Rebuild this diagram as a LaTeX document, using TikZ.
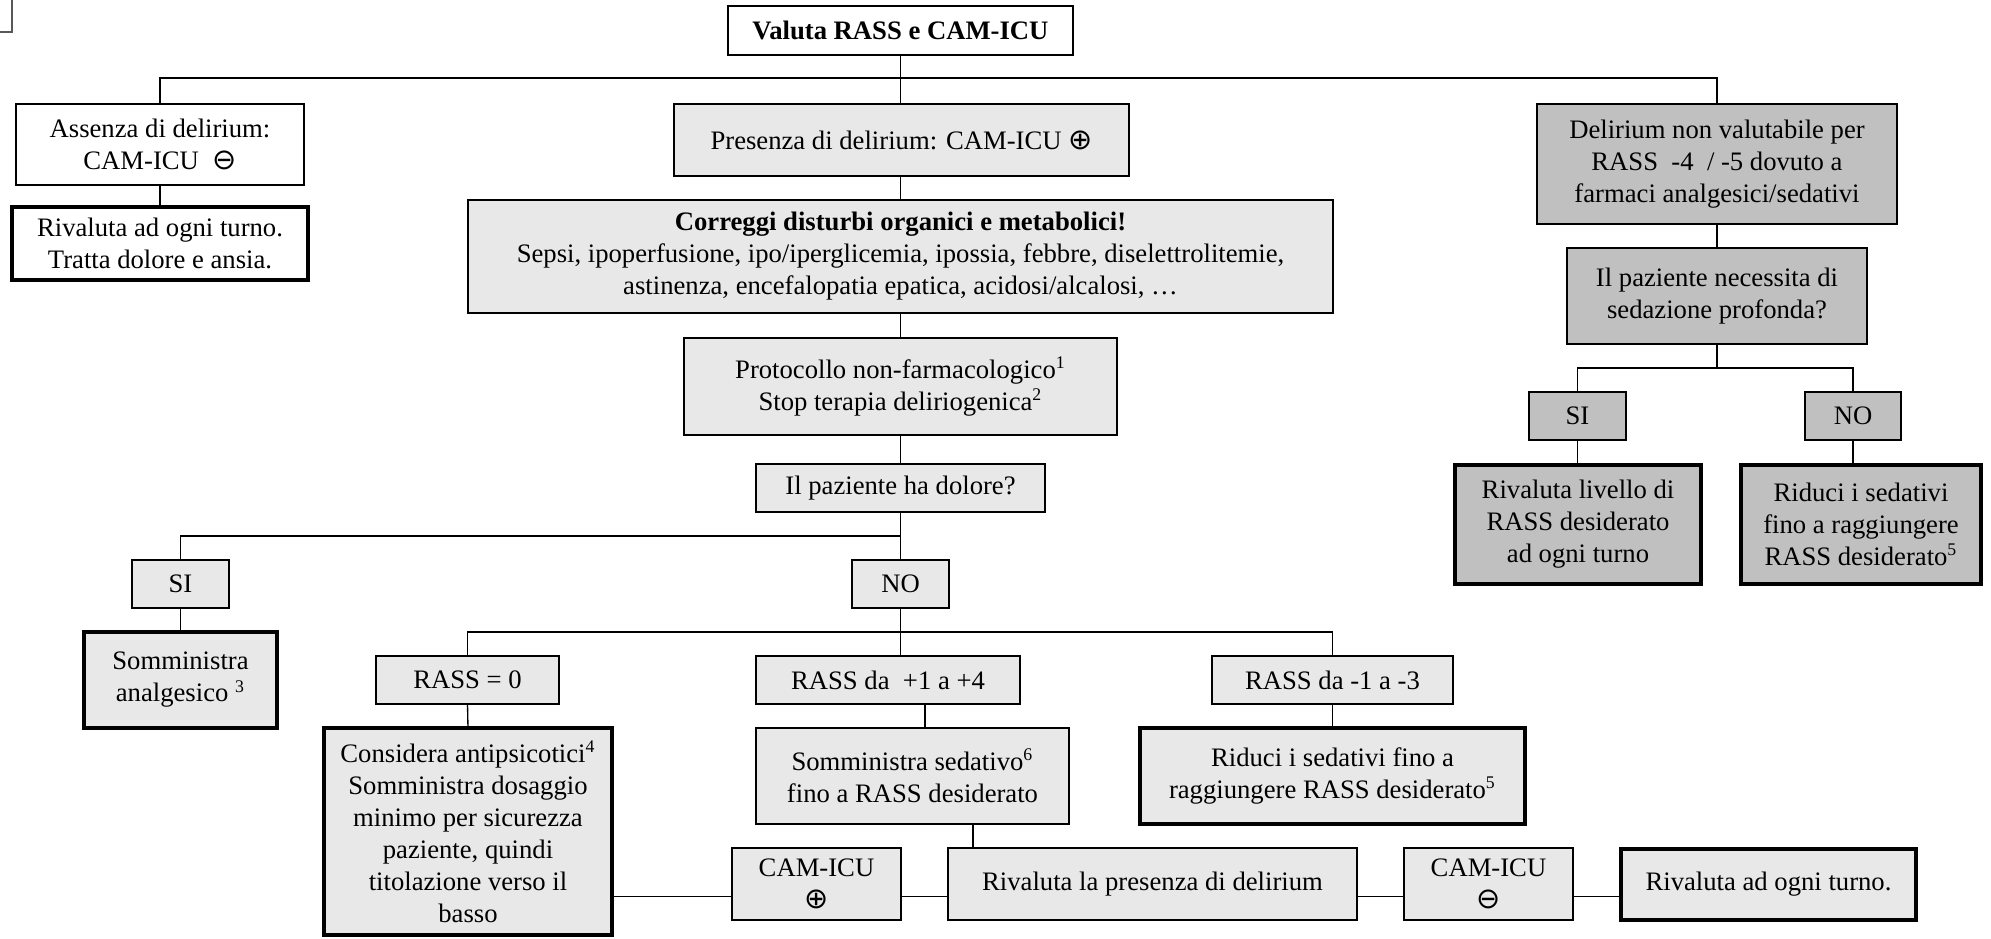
\documentclass[tikz,border=0pt]{standalone}
\usepackage{fontspec}
\setmainfont{Liberation Serif}
\newfontfamily\symfnt{DejaVu Sans}
\newcommand{\cplus}{{\symfnt\fontsize{13pt}{14pt}\selectfont ⊕}}
\newcommand{\cminus}{{\symfnt\fontsize{13pt}{14pt}\selectfont ⊖}}
\definecolor{lg}{RGB}{232,232,232}
\definecolor{dg}{RGB}{192,192,192}
\begin{document}
\begin{tikzpicture}[x=0.45pt,y=-0.45pt,
  every node/.style={font=\fontsize{12pt}{14.4pt}\selectfont, align=center, inner sep=0pt, outer sep=0pt},
  bx/.style 2 args={draw, line width=0.6pt, minimum width=#1*0.45pt, minimum height=#2*0.45pt},
  wb/.style={fill=white},
  lb/.style={fill=lg},
  db/.style={fill=dg},
  tk/.style={line width=2pt},
  conn/.style={draw, line width=0.6pt}
]
\useasboundingbox (0,0) rectangle (1991,939);
\draw[line width=0.6pt, black!65] (12,0) -- (12,32) -- (0,32);

% central column
\node[bx={345}{49}, wb] (valuta) at (900.5,30.5) {\textbf{Valuta RASS e CAM-ICU}};
\node[bx={288}{81}, wb] (assenza) at (160,144.5) {Assenza di delirium:\\CAM-ICU\ \ \cminus};
\node[bx={296}{73}, wb, tk] (riv1) at (160,243.5) {Rivaluta ad ogni turno.\\Tratta dolore e ansia.};
\node[bx={455}{72}, lb] (presenza) at (901.5,140) {Presenza di delirium: CAM-ICU \cplus};
\node[bx={865}{113}, lb] (correggi) at (900.5,256.5) {\textbf{Correggi disturbi organici e metabolici!}\\Sepsi, ipoperfusione, ipo/iperglicemia, ipossia, febbre, diselettrolitemie,\\astinenza, encefalopatia epatica, acidosi/alcalosi, …};
\node[bx={433}{97}, lb] (protocollo) at (900.5,386.5) {Protocollo non-farmacologico\textsuperscript{1}\\Stop terapia deliriogenica\textsuperscript{2}};
\node[bx={289}{48}, lb] (dolore) at (900.5,488) {Il paziente ha dolore?};
\node[bx={97}{48}, lb] (si1) at (180.5,584) {SI};
\node[bx={97}{48}, lb] (no1) at (900.5,584) {NO};
\node[bx={193}{96}, lb, tk] (analg) at (180.5,680) {Somministra\\analgesico \textsuperscript{3}};
\node[bx={183}{48}, lb] (rass0) at (467.5,680) {RASS = 0};
\node[bx={264}{48}, lb] (rassp) at (888,680) {RASS da\ \ +1 a +4};
\node[bx={241}{48}, lb] (rassm) at (1332.5,680) {RASS da -1 a -3};
\node[bx={288}{207}, lb, tk] (consid) at (468,831.5) {Considera antipsicotici\textsuperscript{4}\\Somministra dosaggio\\minimo per sicurezza\\paziente, quindi\\titolazione verso il\\basso};
\node[bx={313}{96}, lb] (sedat) at (912.5,776) {Somministra sedativo\textsuperscript{6}\\fino a RASS desiderato};
\node[bx={385}{96}, lb, tk] (riduci1) at (1332.5,776) {Riduci i sedativi fino a\\raggiungere RASS desiderato\textsuperscript{5}};
\node[bx={169}{72}, lb] (campos) at (816.5,884) {CAM-ICU\\\cplus};
\node[bx={409}{72}, lb] (rivpres) at (1152.5,884) {Rivaluta la presenza di delirium};
\node[bx={169}{72}, lb] (camneg) at (1488.5,884) {CAM-ICU\\\cminus};
\node[bx={295}{71}, lb, tk] (riv2) at (1768.5,884.5) {Rivaluta ad ogni turno.};

% right column
\node[bx={360}{120}, db] (delir) at (1717,164) {Delirium non valutabile per\\RASS\ \ -4\ \ / -5 dovuto a\\farmaci analgesici/sedativi};
\node[bx={300}{96}, db] (necess) at (1717,296) {Il paziente necessita di\\sedazione profonda?};
\node[bx={97}{48}, db] (si2) at (1577.5,416) {SI};
\node[bx={96}{48}, db] (no2) at (1853,416) {NO};
\node[bx={246}{119}, db, tk] (rivliv) at (1578,524.5) {Rivaluta livello di\\RASS desiderato\\ad ogni turno};
\node[bx={240}{119}, db, tk] (riduci2) at (1861,524.5) {Riduci i sedativi\\fino a raggiungere\\RASS desiderato\textsuperscript{5}};

% junction coordinates
\coordinate (ts) at (900.5,78);
\coordinate (sp2) at (900.5,536);
\coordinate (sp3) at (900.5,632);
\coordinate (sp4) at (1717,368);
\coordinate (rowl) at (0,896.5);
\coordinate (xa) at (925,0);
\coordinate (xb) at (973,0);

% connectors
\path[conn] (assenza.north) |- (ts) -| (delir.north);
\path[conn] (valuta.south) -- (valuta.south |- presenza.north);
\path[conn] (assenza.south) -- (riv1.north);
\path[conn] (presenza.south -| correggi.north) -- (correggi.north);
\path[conn] (correggi.south) -- (protocollo.north);
\path[conn] (protocollo.south) -- (dolore.north);
\path[conn] (dolore.south) -- (no1.north);
\path[conn] (si1.north) |- (sp2);
\path[conn] (si1.south) -- (analg.north);
\path[conn] (no1.south) -- (no1.south |- rassp.north);
\path[conn] (rass0.north) |- (sp3) -| (rassm.north);
\path[conn] (rass0.south) -- (consid.north);
\path[conn] (rassp.south -| xa) -- (sedat.north -| xa);
\path[conn] (sedat.south -| xb) -- (rivpres.north -| xb);
\path[conn] (rassm.south) -- (riduci1.north);
\path[conn] (consid.east |- rowl) -- (campos.west |- rowl);
\path[conn] (campos.east |- rowl) -- (rivpres.west |- rowl);
\path[conn] (rivpres.east |- rowl) -- (camneg.west |- rowl);
\path[conn] (camneg.east |- rowl) -- (riv2.west |- rowl);
\path[conn] (delir.south) -- (necess.north);
\path[conn] (necess.south) -- (sp4);
\path[conn] (si2.north) |- (sp4) -| (no2.north);
\path[conn] (si2.south) -- (si2.south |- rivliv.north);
\path[conn] (no2.south) -- (no2.south |- riduci2.north);
\end{tikzpicture}
\end{document}
